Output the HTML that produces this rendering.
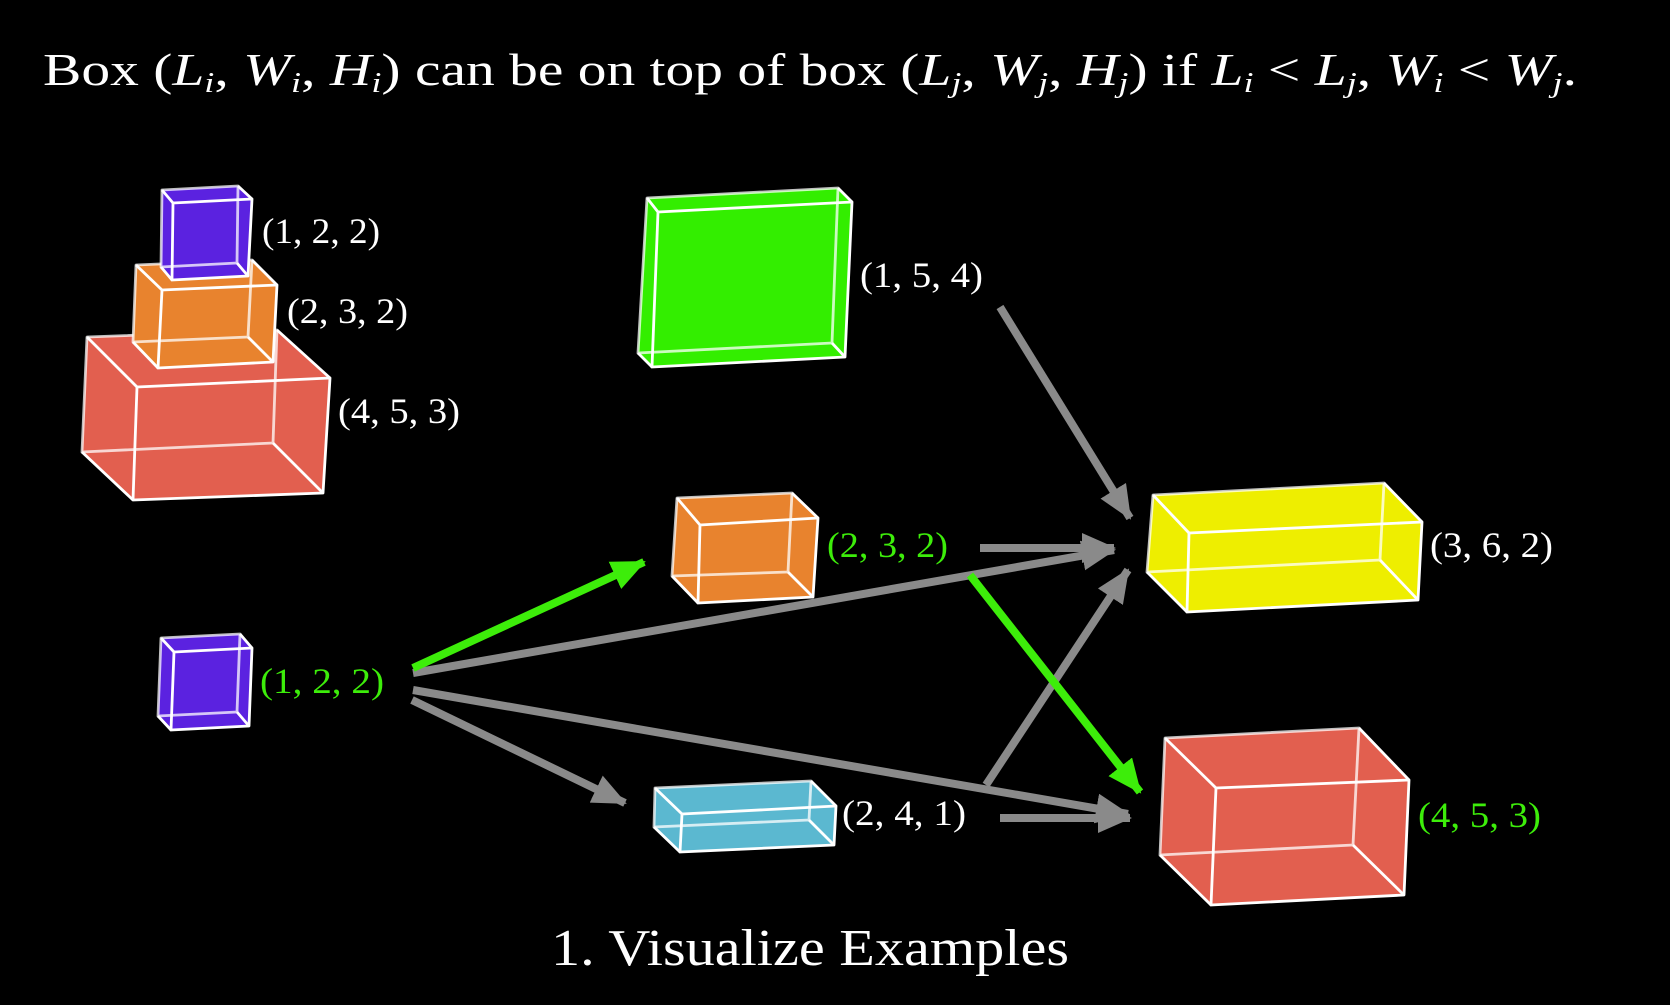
<!DOCTYPE html>
<html><head><meta charset="utf-8"><style>
html,body{margin:0;padding:0;background:#000;}
svg{display:block;}
text{font-family:"Liberation Serif",serif;}
</style></head><body>
<svg width="1670" height="1005" viewBox="0 0 1670 1005" xmlns="http://www.w3.org/2000/svg">
<defs>
<marker id="hg" markerUnits="userSpaceOnUse" markerWidth="34" markerHeight="30" refX="32" refY="15" orient="auto"><path d="M0,0 L34,15 L0,30 z" fill="#8a8a8a"/></marker>
<marker id="hgr" markerUnits="userSpaceOnUse" markerWidth="34" markerHeight="30" refX="32" refY="15" orient="auto"><path d="M0,0 L34,15 L0,30 z" fill="#3ded0a"/></marker>
</defs>
<rect width="1670" height="1005" fill="#000"/>

<text x="43" y="85" font-size="46" fill="#fff" textLength="1534" lengthAdjust="spacingAndGlyphs">Box (<tspan font-style="italic">L</tspan><tspan font-size="29" font-style="italic" dy="7">i</tspan><tspan dy="-7">, </tspan><tspan font-style="italic">W</tspan><tspan font-size="29" font-style="italic" dy="7">i</tspan><tspan dy="-7">, </tspan><tspan font-style="italic">H</tspan><tspan font-size="29" font-style="italic" dy="7">i</tspan><tspan dy="-7">) can be on top of box (</tspan><tspan font-style="italic">L</tspan><tspan font-size="29" font-style="italic" dy="7">j</tspan><tspan dy="-7">, </tspan><tspan font-style="italic">W</tspan><tspan font-size="29" font-style="italic" dy="7">j</tspan><tspan dy="-7">, </tspan><tspan font-style="italic">H</tspan><tspan font-size="29" font-style="italic" dy="7">j</tspan><tspan dy="-7">) if </tspan><tspan font-style="italic">L</tspan><tspan font-size="29" font-style="italic" dy="7">i</tspan><tspan dy="-7"> &lt; </tspan><tspan font-style="italic">L</tspan><tspan font-size="29" font-style="italic" dy="7">j</tspan><tspan dy="-7">, </tspan><tspan font-style="italic">W</tspan><tspan font-size="29" font-style="italic" dy="7">i</tspan><tspan dy="-7"> &lt; </tspan><tspan font-style="italic">W</tspan><tspan font-size="29" font-style="italic" dy="7">j</tspan><tspan dy="-7">.</tspan></text>

<g stroke="#fff" stroke-width="2.8" stroke-linejoin="round">
<polygon points="87,337 277,330 330,378 323,493 133,500 82,452" fill="#e25f4f" stroke="none"/>
<polygon points="137,387 330,378 323,493 133,500" fill="none"/>
<polygon points="87,337 277,330 273,443 82,452" fill="none" stroke-opacity="0.75"/>
<path d="M87,337L137,387M277,330L330,378M273,443L323,493M82,452L133,500" fill="none"/>

<polygon points="136,265 252,260 277,285 273,362 158,368 133,342" fill="#e8832e" stroke="none"/>
<polygon points="162,290 277,285 273,362 158,368" fill="none"/>
<polygon points="136,265 252,260 248,337 133,342" fill="none" stroke-opacity="0.75"/>
<path d="M136,265L162,290M252,260L277,285M248,337L273,362M133,342L158,368" fill="none"/>

<polygon points="162,190 238,186 252,199 248,276 172,280 161,267" fill="#5b22e0" stroke="none"/>
<polygon points="173,203 252,199 248,276 172,280" fill="none"/>
<polygon points="162,190 238,186 237,263 161,267" fill="none" stroke-opacity="0.75"/>
<path d="M162,190L173,203M238,186L252,199M237,263L248,276M161,267L172,280" fill="none"/>

<polygon points="647,198 838,188 852,202 845,357 652,367 638,353" fill="#33ee00" stroke="none"/>
<polygon points="658,212 852,202 845,357 652,367" fill="none"/>
<polygon points="647,198 838,188 832,343 638,353" fill="none" stroke-opacity="0.75"/>
<path d="M647,198L658,212M838,188L852,202M832,343L845,357M638,353L652,367" fill="none"/>

<polygon points="677,498 792,493 818,518 813,597 698,603 672,576" fill="#e8832e" stroke="none"/>
<polygon points="700,525 818,518 813,597 698,603" fill="none"/>
<polygon points="677,498 792,493 788,572 672,576" fill="none" stroke-opacity="0.75"/>
<path d="M677,498L700,525M792,493L818,518M788,572L813,597M672,576L698,603" fill="none"/>

<polygon points="161,638 240,634 252,648 249,726 171,730 158,716" fill="#5b22e0" stroke="none"/>
<polygon points="174,652 252,648 249,726 171,730" fill="none"/>
<polygon points="161,638 240,634 237,712 158,716" fill="none" stroke-opacity="0.75"/>
<path d="M161,638L174,652M240,634L252,648M237,712L249,726M158,716L171,730" fill="none"/>

<polygon points="655,788 811,781 836,806 834,845 680,852 654,827" fill="#5bb8d0" stroke="none"/>
<polygon points="682,814 836,806 834,845 680,852" fill="none"/>
<polygon points="655,788 811,781 809,820 654,827" fill="none" stroke-opacity="0.75"/>
<path d="M655,788L682,814M811,781L836,806M809,820L834,845M654,827L680,852" fill="none"/>

<polygon points="1153,495 1384,483 1422,522 1418,600 1187,612 1147,572" fill="#eeee00" stroke="none"/>
<polygon points="1189,533 1422,522 1418,600 1187,612" fill="none"/>
<polygon points="1153,495 1384,483 1380,560 1147,572" fill="none" stroke-opacity="0.75"/>
<path d="M1153,495L1189,533M1384,483L1422,522M1380,560L1418,600M1147,572L1187,612" fill="none"/>

<polygon points="1165,738 1359,728 1409,780 1404,895 1211,905 1160,855" fill="#e25f4f" stroke="none"/>
<polygon points="1216,788 1409,780 1404,895 1211,905" fill="none"/>
<polygon points="1165,738 1359,728 1353,845 1160,855" fill="none" stroke-opacity="0.75"/>
<path d="M1165,738L1216,788M1359,728L1409,780M1353,845L1404,895M1160,855L1211,905" fill="none"/>
</g>

<g stroke-width="8" fill="none">
<line x1="1000" y1="307" x2="1130" y2="518" stroke="#8a8a8a" marker-end="url(#hg)"/>
<line x1="980" y1="548" x2="1114" y2="548" stroke="#8a8a8a" marker-end="url(#hg)"/>
<line x1="413" y1="673" x2="1114" y2="550" stroke="#8a8a8a" marker-end="url(#hg)"/>
<line x1="986" y1="785" x2="1128" y2="570" stroke="#8a8a8a" marker-end="url(#hg)"/>
<line x1="413" y1="690" x2="1128" y2="814" stroke="#8a8a8a" marker-end="url(#hg)"/>
<line x1="1000" y1="818" x2="1130" y2="818" stroke="#8a8a8a" marker-end="url(#hg)"/>
<line x1="412" y1="700" x2="625" y2="803" stroke="#8a8a8a" marker-end="url(#hg)"/>
<line x1="413" y1="668" x2="644" y2="562" stroke="#3ded0a" marker-end="url(#hgr)"/>
<line x1="970" y1="575" x2="1140" y2="792" stroke="#3ded0a" marker-end="url(#hgr)"/>
</g>

<g font-size="36" fill="#fff">
<text x="262" y="243" textLength="118" lengthAdjust="spacingAndGlyphs">(1, 2, 2)</text>
<text x="287" y="323" textLength="121" lengthAdjust="spacingAndGlyphs">(2, 3, 2)</text>
<text x="338" y="423" textLength="122" lengthAdjust="spacingAndGlyphs">(4, 5, 3)</text>
<text x="860" y="287" textLength="123" lengthAdjust="spacingAndGlyphs">(1, 5, 4)</text>
<text x="1430" y="557" textLength="123" lengthAdjust="spacingAndGlyphs">(3, 6, 2)</text>
<text x="842" y="825" textLength="124" lengthAdjust="spacingAndGlyphs">(2, 4, 1)</text>
<text x="827" y="557" fill="#3ded0a" textLength="121" lengthAdjust="spacingAndGlyphs">(2, 3, 2)</text>
<text x="260" y="693" fill="#3ded0a" textLength="124" lengthAdjust="spacingAndGlyphs">(1, 2, 2)</text>
<text x="1418" y="827" fill="#3ded0a" textLength="123" lengthAdjust="spacingAndGlyphs">(4, 5, 3)</text>
</g>

<text x="551" y="965" font-size="52" fill="#fff" textLength="518" lengthAdjust="spacingAndGlyphs">1.  Visualize Examples</text>
</svg>
</body></html>
